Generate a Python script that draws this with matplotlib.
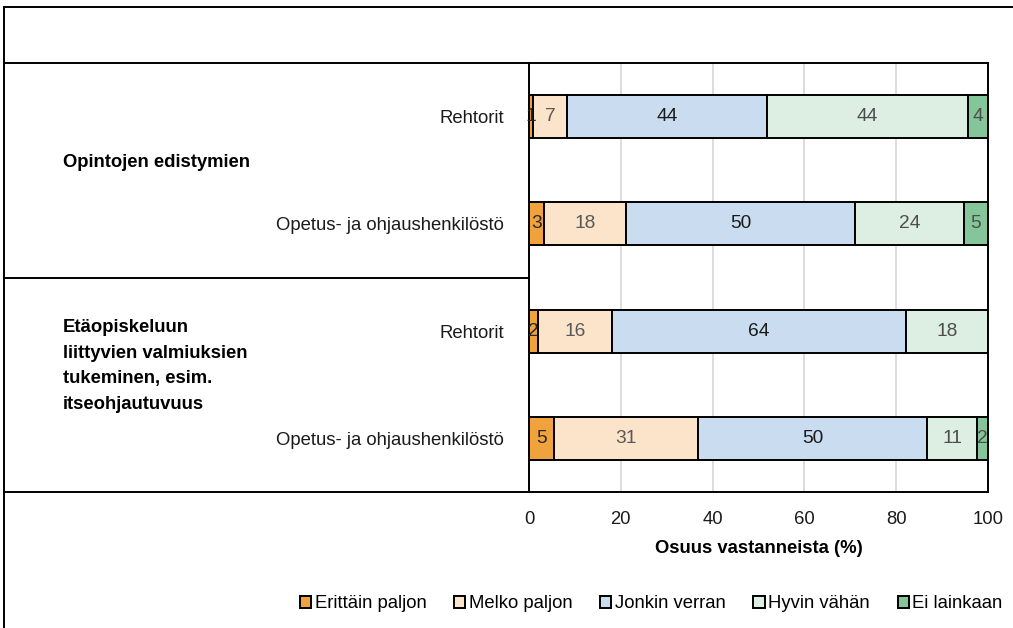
import matplotlib.pyplot as plt
from matplotlib.lines import Line2D
from matplotlib.patches import Patch

plt.rcParams['font.family'] = ['Liberation Sans', 'DejaVu Sans']

# Data
rivit = ["Rehtorit", "Opetus- ja ohjaushenkilöstö", "Rehtorit", "Opetus- ja ohjaushenkilöstö"]
ryhmat = ["Opintojen edistymien",
          "Etäopiskeluun\nliittyvien valmiuksien\ntukeminen, esim.\nitseohjautuvuus"]
sarjat = ["Erittäin paljon", "Melko paljon", "Jonkin verran", "Hyvin vähän", "Ei lainkaan"]
erittain = [0.9, 3.3, 2.0, 5.4]
melko = [7.4, 17.9, 16.1, 31.4]
jonkin = [43.6, 49.9, 64.0, 49.9]
hyvin = [43.7, 23.6, 17.9, 11.0]
ei = [4.4, 5.3, 0.0, 2.3]
arvot = [erittain, melko, jonkin, hyvin, ei]
varit = ["#F0A33C", "#FCE4CA", "#C9DCF0", "#DDEEE2", "#84C59A"]
tekstivarit = ["#262626", "#595959", "#1a1a1a", "#4d4d4d", "#4d4d4d"]

FS = 13.3
W, H = 1013, 628
fig = plt.figure(figsize=(W / 100, H / 100), dpi=100)
ax = fig.add_axes([529 / W, 1 - 492 / H, (988 - 529) / W, (492 - 63) / H])

y = list(range(len(rivit)))
vasen = [0.0] * len(rivit)
for sarja, vals, vari, tv in zip(sarjat, arvot, varit, tekstivarit):
    bars = ax.barh(y, vals, left=vasen, height=0.4, color=vari,
                   edgecolor="black", linewidth=1.4, label=sarja, zorder=3)
    for b, v in zip(bars, vals):
        if v > 0:
            ax.text(b.get_x() + b.get_width() / 2, b.get_y() + b.get_height() / 2,
                    f"{v:.0f}", ha="center", va="center", fontsize=FS + 0.5,
                    color=tv, zorder=4)
    vasen = [a + b for a, b in zip(vasen, vals)]

ax.set_xlim(0, 100)
ax.set_ylim(3.5, -0.5)
ax.set_xticks([0, 20, 40, 60, 80, 100])
ax.set_yticks(y)
ax.set_yticklabels(rivit)
ax.tick_params(axis="both", length=0, labelsize=FS, colors="#1a1a1a")
ax.tick_params(axis="y", pad=18)
ax.tick_params(axis="x", pad=14)
ax.xaxis.grid(True, color="#d9d9d9", linewidth=1.3, zorder=0)
ax.set_axisbelow(True)
for s in ax.spines.values():
    s.set_color("black")
    s.set_linewidth(1.4)
ax.set_xlabel("Osuus vastanneista (%)", fontsize=FS, fontweight="bold", labelpad=8)


def viiva(x0, y0, x1, y1):
    fig.add_artist(Line2D([x0 / W, x1 / W], [1 - y0 / H, 1 - y1 / H],
                          color="black", linewidth=1.4))


viiva(4, 7, 1013, 7)
viiva(4, 7, 4, 628)
viiva(4, 63, 529, 63)
viiva(4, 278, 529, 278)
viiva(4, 492, 529, 492)

fig.text(63 / W, 1 - 162 / H, ryhmat[0], fontsize=FS, fontweight="bold",
         ha="left", va="center", color="black")
fig.text(63 / W, 1 - 366 / H, ryhmat[1], fontsize=FS, fontweight="bold",
         ha="left", va="center", color="black", linespacing=1.65)

kahvat = [Patch(facecolor=c, edgecolor="black", linewidth=1.4) for c in varit]
fig.legend(kahvat, sarjat, loc="center right", bbox_to_anchor=(1010 / W, 1 - 604 / H),
           ncol=5, frameon=False, fontsize=FS, handlelength=0.6, handleheight=0.6,
           handletextpad=0.2, columnspacing=1.5, borderaxespad=0)

fig.savefig("out.png", dpi=100)
